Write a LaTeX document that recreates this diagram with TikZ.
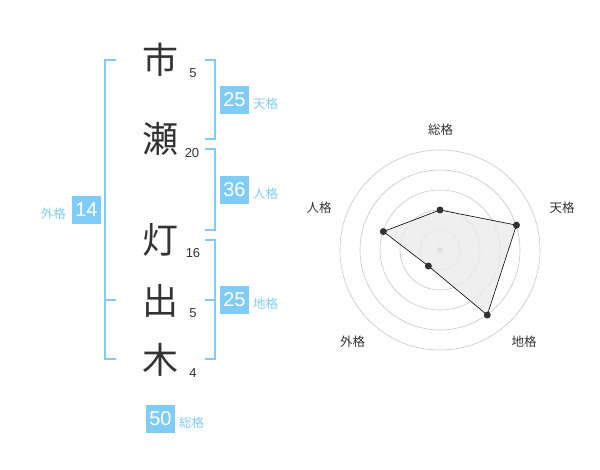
\documentclass[tikz,border=0pt]{standalone}
\usepackage{fontspec}
\setmainfont{Liberation Sans}
\newfontfamily\cjk{Noto Sans CJK JP}
\definecolor{sky}{HTML}{80CCF8}
\definecolor{ink}{HTML}{333333}
\begin{document}
\begin{tikzpicture}[x=1pt,y=-1pt,
  br/.style={draw=sky,line width=1.6pt},
  kanji/.style={font=\cjk\fontsize{36}{36}\selectfont,text=ink,inner sep=0pt},
  num/.style={font=\fontsize{13}{13}\selectfont,text=ink,inner sep=0pt},
  bx/.style={fill=sky,text=white,font=\fontsize{20}{20}\selectfont,minimum width=29pt,minimum height=28pt,inner sep=0pt},
  lab/.style={text=sky,font=\cjk\fontsize{12.5}{12.5}\selectfont,inner sep=0pt},
  rlab/.style={text=ink,font=\cjk\fontsize{12.5}{12.5}\selectfont,inner sep=0pt},
  ring/.style={draw=black!22,line width=0.6pt},
  dot/.style={circle,fill=ink,inner sep=0pt,minimum size=7pt}]
\useasboundingbox (0,0) rectangle (600,470);
% kanji
\node[kanji] (k1) at (160.5,60) {市};
\node[kanji] (k2) at (160.5,139) {瀬};
\node[kanji] (k3) at (160.5,240) {灯};
\node[kanji] (k4) at (160.5,301) {出};
\node[kanji] (k5) at (160.5,360) {木};
\node[num] (n1) at (193,73) {5};
\node[num] (n2) at (192,153) {20};
\node[num] (n3) at (193,253) {16};
\node[num] (n4) at (193,313) {5};
\node[num] (n5) at (193,373) {4};
% brackets
\draw[br] (116,60) -- (105,60) -- (105,359) -- (116,359);
\draw[br] (105,300) -- (116,300);
\draw[br] (205,60) -- (215,60) -- (215,139) -- (205,139);
\draw[br] (205,149) -- (215,149) -- (215,230) -- (205,230);
\draw[br] (205,240) -- (215,240) -- (215,359) -- (205,359);
\draw[br] (205,300) -- (215,300);
% boxes
\node[bx] (b1) at (234.5,100) {25};
\node[lab,anchor=west] (l1) at (253,104) {天格};
\node[bx] (b2) at (234.5,190) {36};
\node[lab,anchor=west] (l2) at (253,194) {人格};
\node[bx] (b3) at (234.5,300) {25};
\node[lab,anchor=west] (l3) at (253,304) {地格};
\node[bx] (b4) at (86.5,210) {14};
\node[lab,anchor=east] (l4) at (66,214) {外格};
\node[bx] (b5) at (160.5,419) {50};
\node[lab,anchor=west] (l5) at (179,423) {総格};
% radar
\coordinate (c) at (440,250);
\foreach \r in {20,40,60,80,100} \draw[ring] (c) circle (\r);
\fill[black!30] (c) circle (3);
\path (c) ++(0,-40) coordinate (pa)
      (c) ++(-18:80.4) coordinate (pb)
      (c) ++(54:80.4) coordinate (pc)
      (c) ++(126:19.8) coordinate (pd)
      (c) ++(198:59.6) coordinate (pe);
\filldraw[fill=black!8,fill opacity=0.8,draw=black,line width=0.6pt] (pa) -- (pb) -- (pc) -- (pd) -- (pe) -- cycle;
\foreach \p in {pa,pb,pc,pd,pe} \node[dot] at (\p) {};
\node[rlab] (r1) at (440.5,130) {総格};
\node[rlab] (r2) at (562,208) {天格};
\node[rlab] (r3) at (524,342) {地格};
\node[rlab] (r4) at (352.5,342) {外格};
\node[rlab] (r5) at (319,208) {人格};
\end{tikzpicture}
\end{document}
